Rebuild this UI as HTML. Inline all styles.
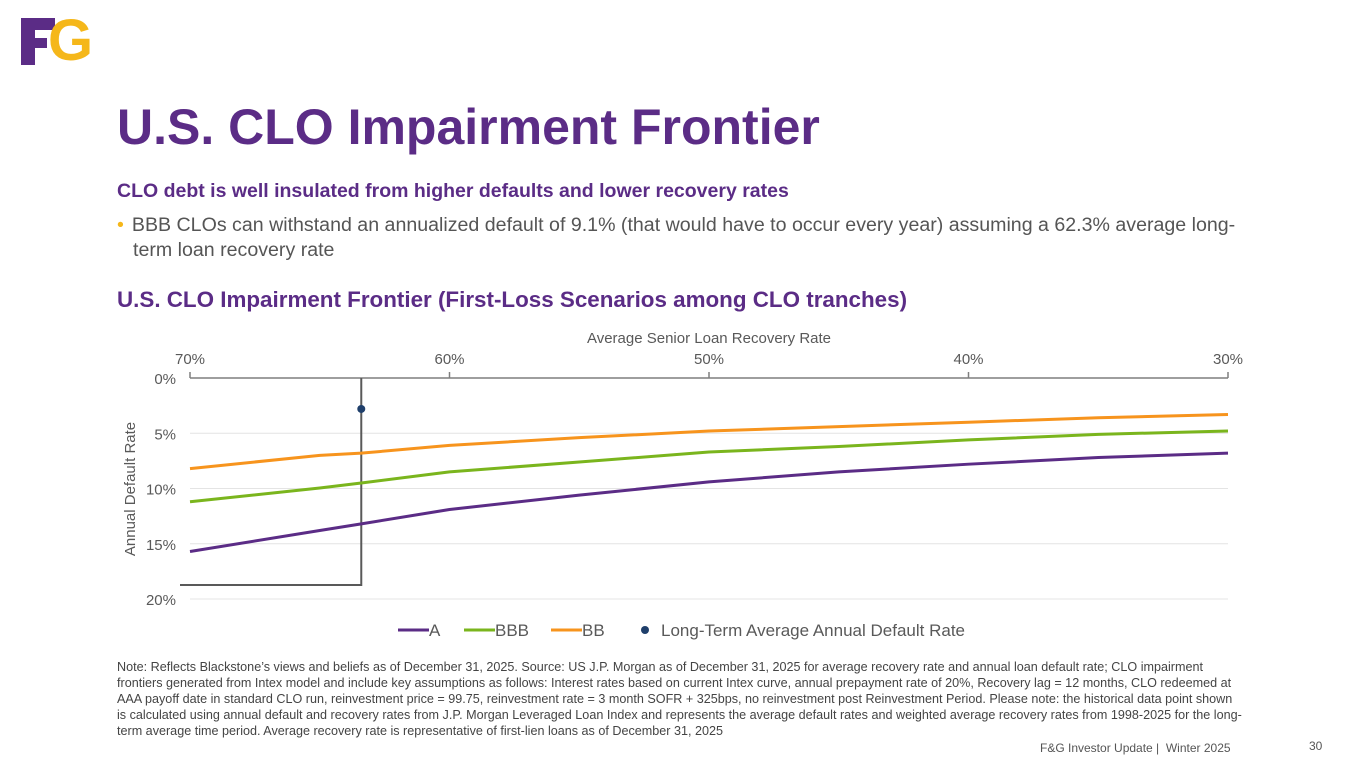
<!DOCTYPE html>
<html><head><meta charset="utf-8"><style>
body{margin:0;width:1365px;height:768px;background:#fff;font-family:"Liberation Sans",Arial,sans-serif;position:relative;overflow:hidden}
.abs{position:absolute}
</style></head><body>
<div class="abs" style="left:21px;top:18px;width:70px;height:48px">
 <div class="abs" style="left:0;top:0;width:14px;height:47px;background:#5b2c86"></div>
 <div class="abs" style="left:0;top:0;width:34px;height:12px;background:#5b2c86"></div>
 <div class="abs" style="left:0;top:20px;width:26px;height:10px;background:#5b2c86"></div>
 <div class="abs" style="left:27px;top:-6px;font:bold 58px 'Liberation Sans';color:#f5b71a;line-height:58px">G</div>
</div>
<div class="abs" style="left:117px;top:98px;font-weight:bold;font-size:50px;color:#5b2c86">U.S. CLO Impairment Frontier</div>
<div class="abs" style="left:117px;top:180px;font-weight:bold;font-size:19.5px;color:#5b2c86">CLO debt is well insulated from higher defaults and lower recovery rates</div>
<div class="abs" style="left:117px;top:213px;width:1200px;font-size:19.6px;color:#555;line-height:25px"><span style="color:#f5b71a;margin-right:8px">•</span>BBB CLOs can withstand an annualized default of 9.1% (that would have to occur every year) assuming a 62.3% average long-<br><span style="margin-left:16px">term loan recovery rate</span></div>
<div class="abs" style="left:117px;top:287px;font-weight:bold;font-size:22.4px;color:#5b2c86">U.S. CLO Impairment Frontier (First-Loss Scenarios among CLO tranches)</div>
<svg class="abs" style="left:0;top:0" width="1365" height="768" id="chart"></svg>
<div class="abs" style="left:117px;top:659px;width:1125px;font-size:12.6px;color:#444;line-height:16px">Note: Reflects Blackstone’s views and beliefs as of December 31, 2025. Source: US J.P. Morgan as of December 31, 2025 for average recovery rate and annual loan default rate; CLO impairment frontiers generated from Intex model and include key assumptions as follows: Interest rates based on current Intex curve, annual prepayment rate of 20%, Recovery lag = 12 months, CLO redeemed at AAA payoff date in standard CLO run, reinvestment price = 99.75, reinvestment rate = 3 month SOFR + 325bps, no reinvestment post Reinvestment Period. Please note: the historical data point shown is calculated using annual default and recovery rates from J.P. Morgan Leveraged Loan Index and represents the average default rates and weighted average recovery rates from 1998-2025 for the long-term average time period. Average recovery rate is representative of first-lien loans as of December 31, 2025</div>
<div class="abs" style="left:1040px;top:741px;font-size:12px;color:#555">F&amp;G Investor Update | &nbsp;Winter 2025</div>
<div class="abs" style="left:1309px;top:739px;font-size:12px;color:#555">30</div>
<script>
const recovery=[70,65,63.4,60,55,50,45,40,35,30];
const seriesA=[15.7,13.8,13.2,11.9,10.6,9.4,8.5,7.8,7.2,6.8];
const seriesBBB=[11.2,9.95,9.5,8.5,7.6,6.7,6.2,5.6,5.1,4.8];
const seriesBB=[8.2,7.0,6.8,6.1,5.4,4.8,4.4,4.0,3.6,3.3];
const xTicks=[70,60,50,40,30];
const yTicks=[0,5,10,15,20];
const ltPoint=[63.4,2.8];
const NS="http://www.w3.org/2000/svg";
const svg=document.getElementById('chart');
const X=v=>190+(70-v)*(1228-190)/40;
const Y=v=>378+v*(599-378)/20;
function el(t,a){const e=document.createElementNS(NS,t);for(const k in a)e.setAttribute(k,a[k]);svg.appendChild(e);return e;}
yTicks.forEach(t=>{
 if(t>0){const g=el('line',{x1:190,x2:1228,y1:Y(t),y2:Y(t),stroke:'#e4e4e4','stroke-width':1});
 
 }
 const tx=el('text',{x:176,y:Y(t)+6,'text-anchor':'end','font-size':15,fill:'#595959','font-family':'Liberation Sans'});
 tx.textContent=t+'%';
 
 
});
const ax=el('line',{x1:190,x2:1228,y1:378,y2:378,stroke:'#7f7f7f','stroke-width':1.5});


xTicks.forEach(t=>{
 const tk=el('line',{x1:X(t),x2:X(t),y1:372,y2:378,stroke:'#7f7f7f','stroke-width':1.5});
 
 
 const tx=el('text',{x:X(t),y:364,'text-anchor':'middle','font-size':15,fill:'#595959','font-family':'Liberation Sans'});
 tx.textContent=t+'%';
 
 
});
const xt=el('text',{x:709,y:343,'text-anchor':'middle','font-size':15,fill:'#595959','font-family':'Liberation Sans'});
xt.textContent='Average Senior Loan Recovery Rate';


const yt=el('text',{x:0,y:0,'text-anchor':'middle','font-size':15,fill:'#595959','font-family':'Liberation Sans',transform:'translate(135,489) rotate(-90)'});
yt.textContent='Annual Default Rate';


const ref=el('path',{d:`M${X(ltPoint[0])},378 V585 H180`,fill:'none',stroke:'#595959','stroke-width':2});


[[seriesA,'#5b2c86','series-a-line'],[seriesBBB,'#7ab51d','series-bbb-line'],[seriesBB,'#f7941d','series-bb-line']].forEach(([s,c,n])=>{
 const p=el('polyline',{points:s.map((v,i)=>X(recovery[i])+','+Y(v)).join(' '),fill:'none',stroke:c,'stroke-width':3,'stroke-linejoin':'round'});
 
 
});
const dot=el('circle',{cx:X(ltPoint[0]),cy:Y(ltPoint[1]),r:4,fill:'#1f3f6b'});


const leg=[['A','#5b2c86',398],['BBB','#7ab51d',464],['BB','#f7941d',551]];
leg.forEach(([t,c,x])=>{
 const l=el('line',{x1:x,x2:x+31,y1:630,y2:630,stroke:c,'stroke-width':3});
 
 
 const tx=el('text',{x:x+31,y:636,'font-size':17,fill:'#595959','font-family':'Liberation Sans'});
 tx.textContent=t;
 
 
});
const ld=el('circle',{cx:645,cy:630,r:4,fill:'#1f3f6b'});


const lt=el('text',{x:661,y:636,'font-size':17,fill:'#595959','font-family':'Liberation Sans'});
lt.textContent='Long-Term Average Annual Default Rate';


</script>
</body></html>
